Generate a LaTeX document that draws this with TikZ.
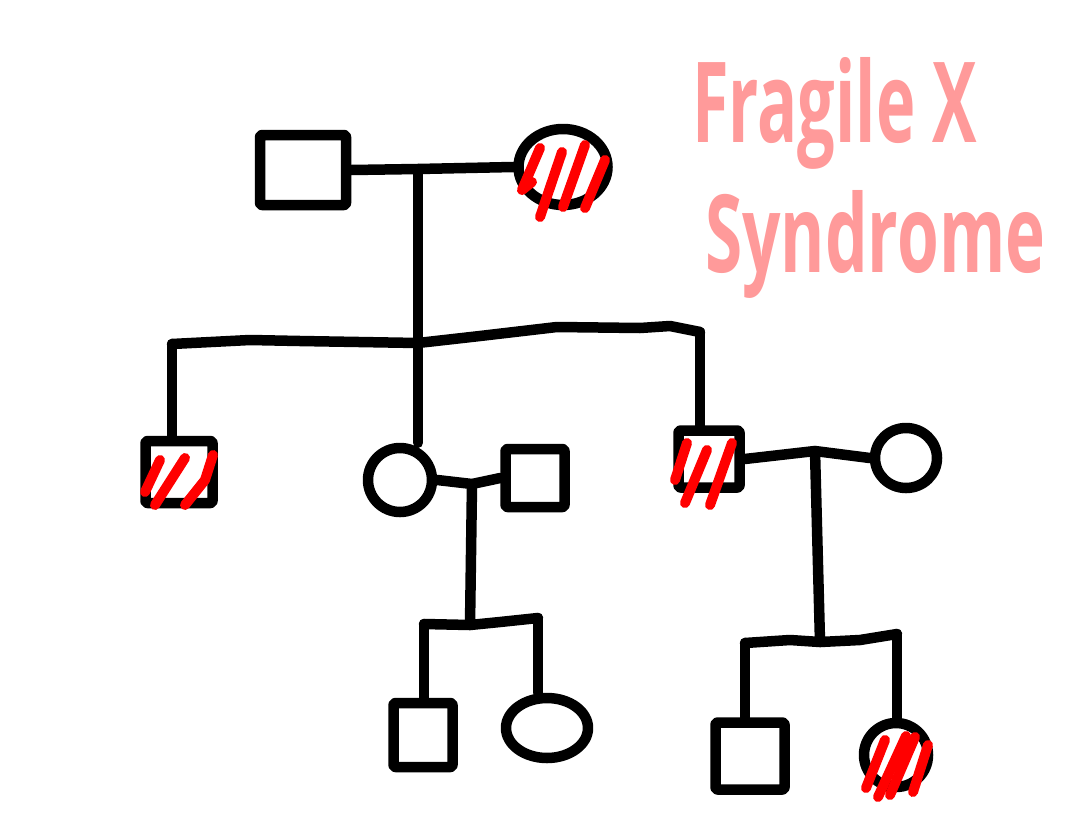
\documentclass[tikz,border=0pt]{standalone}
\usepackage{fontspec}
\usepackage{graphicx}
\newfontfamily\handfont{Open Sans}
\usetikzlibrary{shapes.geometric}
\definecolor{hatch}{HTML}{FF0000}
\definecolor{pinktxt}{HTML}{FF9A9A}
\begin{document}
\begin{tikzpicture}[x=1pt,y=-1pt,
  person/.style={draw=black, line width=10.5pt, inner sep=0pt, line join=round},
  male/.style={person, rectangle, rounded corners=2pt},
  female/.style={person, ellipse},
  link/.style={draw=black, line width=10.5pt, line cap=round, line join=round},
  hatchline/.style={draw=hatch, line width=10pt, line cap=round, line join=round},
  title/.style={text=pinktxt, inner sep=0pt, font=\handfont\bfseries}]
\useasboundingbox (0,0) rectangle (1078,835);
\fill[white] (0,0) rectangle (1078,835);

% generation 1
\node[male, minimum width=86pt, minimum height=70pt] (F1) at (303,170) {};
\node[female, minimum width=89pt, minimum height=76pt] (M1) at (563,167) {};
% generation 2
\node[male, minimum width=67pt, minimum height=62pt] (S2a) at (179,472) {};
\node[female, minimum width=64pt, minimum height=64pt] (C2b) at (400,480) {};
\node[male, minimum width=59pt, minimum height=58pt] (S2c) at (535,478) {};
\node[male, minimum width=61pt, minimum height=57pt] (S2d) at (709,459) {};
\node[female, minimum width=62pt, minimum height=60pt] (C2e) at (906,458) {};
% generation 3
\node[male, minimum width=59pt, minimum height=64pt] (S3a) at (423,735) {};
\node[female, minimum width=82pt, minimum height=60pt] (C3b) at (547,728) {};
\node[male, minimum width=69pt, minimum height=67pt] (S3c) at (750,756) {};
\node[female, minimum width=64pt, minimum height=64pt] (C3d) at (896,755) {};

% junction points
\coordinate (m1) at (418,169);
\coordinate (j1) at (418,343);
\coordinate (b1L) at (172,344);
\coordinate (b1R) at (700,332);
\coordinate (m2) at (472,484);
\coordinate (j2) at (470,625);
\coordinate (b2L) at (424,624);
\coordinate (b2R) at (538,618);
\coordinate (m3) at (815,451);
\coordinate (j3) at (820,642);
\coordinate (b3L) at (745,643);
\coordinate (b3R) at (897,634);

% connectors generation 1
\draw[link] (F1.east) -- (m1) -- (M1.west);
\draw[link] (m1) -- (j1);
\draw[link] (b1L) -- (250,340) -- (300,341) -- (j1) -- (480,336) -- (557,327) -- (640,328) -- (670,326) -- (b1R);
\draw[link] (b1L) -- (b1L |- S2a.north);
\draw[link] (j1) -- (j1 |- C2b.north);
\draw[link] (b1R) -- (b1R |- S2d.north);
% connectors generation 2 (left couple)
\draw[link] (C2b.east) -- (m2) -- (S2c.west);
\draw[link] (m2) -- (j2);
\draw[link] (b2L) -- (j2) -- (500,622) -- (b2R);
\draw[link] (b2L) -- (b2L |- S3a.north);
\draw[link] (b2R) -- (b2R |- C3b.north);
% connectors generation 2 (right couple)
\draw[link] (S2d.east) -- (m3) -- (C2e.west);
\draw[link] (m3) -- (j3);
\draw[link] (b3L) -- (790,640) -- (j3) -- (860,640) -- (b3R);
\draw[link] (b3L) -- (b3L |- S3c.north);
\draw[link] (b3R) -- (b3R |- C3d.north);

% hatching of affected persons
\draw[hatchline, shift={(M1.center)}] (-23,-19) -- (-41,23) -- (-31,15);
\draw[hatchline, shift={(M1.center)}] (-1,-15) -- (-23,50);
\draw[hatchline, shift={(M1.center)}] (22,-22) -- (0,40);
\draw[hatchline, shift={(M1.center)}] (42,-7) -- (22,41);

\draw[hatchline, shift={(S2a.center)}] (-19,-12) -- (-34,20);
\draw[hatchline, shift={(S2a.center)}] (6,-14) -- (-24,33);
\draw[hatchline, shift={(S2a.center)}] (34,-17) -- (26,8) -- (6,33);

\draw[hatchline, shift={(S2d.center)}] (-22,-16) -- (-34,21);
\draw[hatchline, shift={(S2d.center)}] (-2,-9) -- (-24,44);
\draw[hatchline, shift={(S2d.center)}] (23,-16) -- (1,46);

\draw[hatchline, shift={(C3d.center)}] (-11,-15) -- (-30,33);
\draw[hatchline, shift={(C3d.center)}] (10,-19) -- (-18,42);
\draw[hatchline, shift={(C3d.center)}] (19,-18) -- (-6,40);
\draw[hatchline, shift={(C3d.center)}] (32,-10) -- (17,37);

% title
\node[title, anchor=base west] (t1) at (692,142) {\resizebox{285pt}{85pt}{Fragile X}};
\node[title, anchor=base west] (t2) at (705,272) {\resizebox{340pt}{82pt}{Syndrome}};
\end{tikzpicture}
\end{document}
